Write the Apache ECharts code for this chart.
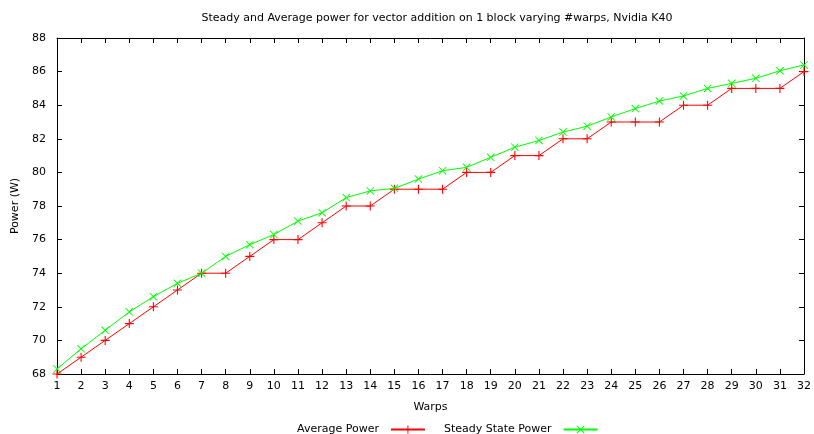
<!DOCTYPE html>
<html>
<head>
<meta charset="utf-8">
<script src="https://cdn.jsdelivr.net/npm/echarts@6/dist/echarts.min.js"></script>
<style>
  html, body { margin: 0; padding: 0; background: #fff; }
  #chart { width: 814px; height: 434px; }
</style>
</head>
<body>
<div id="chart"></div>
<script>
// Warp counts on the x axis
const warps = [1,2,3,4,5,6,7,8,9,10,11,12,13,14,15,16,17,18,19,20,21,22,23,24,25,26,27,28,29,30,31,32];
// Average power (W) per warp count
const averagePower = [68,69,70,71,72,73,74,74,75,76,76,77,78,78,79,79,79,80,80,81,81,82,82,83,83,83,84,84,85,85,85,86];
// Steady state power (W) per warp count
const steadyPower = [68.3,69.5,70.6,71.7,72.6,73.4,74.0,75.0,75.7,76.3,77.1,77.6,78.5,78.9,79.05,79.6,80.1,80.3,80.9,81.5,81.9,82.4,82.75,83.3,83.8,84.25,84.55,85.0,85.3,85.6,86.05,86.4];

const FONT = 'DejaVu Sans';
const plusSymbol = 'path://M4.4,0h1.2v10h-1.2z M0,4.4h10v1.2h-10z';
const crossSymbol = 'path://M0,0.8L0.8,0L10,9.2L9.2,10Z M9.2,0L10,0.8L0.8,10L0,9.2Z';

const pairs = (ys) => warps.map((w, i) => [w, ys[i]]);

const tickCommon = { show: true, inside: true, length: 5, lineStyle: { color: '#000', width: 1 } };
const lineCommon = { show: true, onZero: false, lineStyle: { color: '#000', width: 1 } };

const chart = echarts.init(document.getElementById('chart'), null, { renderer: 'canvas' });
chart.setOption({
  animation: false,
  backgroundColor: '#fff',
  textStyle: { fontFamily: FONT },
  title: {
    text: 'Steady and Average power for vector addition on 1 block varying #warps, Nvidia K40',
    left: 432, top: 8, textAlign: 'center',
    textStyle: { fontFamily: FONT, fontSize: 11, fontWeight: 'normal', color: '#000' }
  },
  grid: { left: 57, right: 6, top: 38, bottom: 60, containLabel: false },
  legend: {
    top: 419, left: 292, align: 'right', itemGap: 18, itemWidth: 34, itemHeight: 10,
    textStyle: { fontFamily: FONT, fontSize: 11, color: '#000', padding: [0, 7, 0, 0] },
    data: ['Average Power', 'Steady State Power']
  },
  xAxis: [{
    type: 'value', min: 1, max: 32, interval: 1, position: 'bottom',
    name: 'Warps', nameLocation: 'middle', nameGap: 28,
    nameTextStyle: { fontFamily: FONT, fontSize: 11, color: '#000' },
    axisLine: lineCommon, axisTick: tickCommon,
    axisLabel: { fontFamily: FONT, fontSize: 11, color: '#000', margin: 7 },
    splitLine: { show: false }
  }, {
    type: 'value', min: 1, max: 32, interval: 1, position: 'top',
    axisLine: lineCommon, axisTick: tickCommon,
    axisLabel: { show: false }, splitLine: { show: false }
  }],
  yAxis: [{
    type: 'value', min: 68, max: 88, interval: 2, position: 'left',
    name: 'Power (W)', nameLocation: 'middle', nameGap: 35, nameRotate: 90,
    nameTextStyle: { fontFamily: FONT, fontSize: 11, color: '#000' },
    axisLine: lineCommon, axisTick: tickCommon,
    axisLabel: { fontFamily: FONT, fontSize: 11, color: '#000', margin: 11 },
    splitLine: { show: false }
  }, {
    type: 'value', min: 68, max: 88, interval: 2, position: 'right',
    axisLine: lineCommon, axisTick: tickCommon,
    axisLabel: { show: false }, splitLine: { show: false }
  }],
  series: [{
    name: 'Average Power', type: 'line', xAxisIndex: 0, yAxisIndex: 0,
    data: pairs(averagePower),
    symbol: plusSymbol, symbolSize: 9, showAllSymbol: true,
    itemStyle: { color: '#ff0000' },
    lineStyle: { color: '#ff0000', width: 1 }
  }, {
    name: 'Steady State Power', type: 'line', xAxisIndex: 0, yAxisIndex: 0,
    data: pairs(steadyPower),
    symbol: crossSymbol, symbolSize: 8, showAllSymbol: true,
    itemStyle: { color: '#00ff00' },
    lineStyle: { color: '#00ff00', width: 1 }
  }]
});
</script>
</body>
</html>
